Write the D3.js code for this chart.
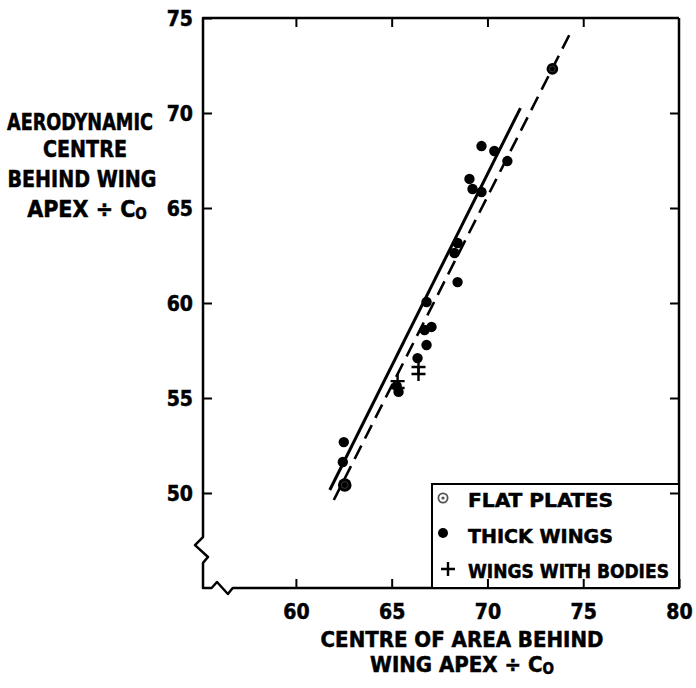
<!DOCTYPE html>
<html lang="en">
<head>
<meta charset="UTF-8" />
<title>Aerodynamic centre</title>
<style>
  body { margin: 0; background: #fff; }
  svg text {
    font-family: "DejaVu Sans Condensed", "DejaVu Sans", sans-serif;
    font-stretch: condensed;
    font-weight: bold;
    fill: #000;
    stroke: #000;
    stroke-width: 0.5px;
  }
</style>
</head>
<body>
<div class="chart"></div>
<script src="https://d3js.org/d3.v7.min.js"></script>
<script>
// values
const xTicks = [60, 65, 70, 75, 80]
const yTicks = [50, 55, 60, 65, 70, 75]

const thickX = [62.5, 62.45, 66.82, 66.35, 65.36, 65.26, 68.44, 68.28, 68.44, 66.82, 67.08, 66.72, 69.69, 70.36, 71.04, 69.06, 69.22, 69.69]
const thickY = [52.68, 51.63, 57.79, 57.1, 55.32, 55.63, 63.16, 62.63, 61.1, 60.05, 58.74, 58.58, 68.26, 68.0, 67.47, 66.53, 66.0, 65.84]

const flatX = [73.39, 62.55]
const flatY = [72.32, 50.42]

const bodiesX = [66.4, 66.4, 65.31, 65.31]
const bodiesY = [56.63, 56.26, 55.89, 55.53]

// two fitted lines (end points)
const solidLineX = [61.77, 71.72]
const solidLineY = [50.16, 70.26]
const dashedLineX = [61.98, 74.43]
const dashedLineY = [49.63, 74.42]

const legendLabels = ['FLAT PLATES', 'THICK WINGS', 'WINGS WITH BODIES']

const W = 696, H = 688

const svg = d3.select('.chart')
  .append('svg')
  .attr('width', W)
  .attr('height', H)

const x = d3.scaleLinear().domain([55.15, 80]).range([203, 679])
const y = d3.scaleLinear().domain([45, 75]).range([588, 18])

const ink = '#000'
const sw = 2.5

// ticks (inward) and labels
const bottomAxis = svg.append('g')
  .attr('transform', `translate(0,${y(45)})`)
  .call(d3.axisBottom(x).tickValues(xTicks).tickSize(-9).tickPadding(16).tickFormat(d3.format('d')))
const topAxis = svg.append('g')
  .attr('transform', `translate(0,${y(75)})`)
  .call(d3.axisTop(x).tickValues(xTicks.slice(0, 4)).tickSize(-9).tickFormat(''))
const leftAxis = svg.append('g')
  .attr('transform', `translate(${x(55.15)},0)`)
  .call(d3.axisLeft(y).tickValues(yTicks).tickSize(-9).tickPadding(10).tickFormat(d3.format('d')))
const rightAxis = svg.append('g')
  .attr('transform', `translate(${x(80)},0)`)
  .call(d3.axisRight(y).tickValues(yTicks.slice(0, 5)).tickSize(-9).tickFormat(''))

svg.selectAll('.domain').remove()
svg.selectAll('.tick line').attr('stroke', ink).attr('stroke-width', 2)
svg.selectAll('.tick text').style('font-size', '21px').attr('fill', ink)
leftAxis.selectAll('.tick text').attr('dy', '0.36em')

// frame with axis breaks
const x0 = x(55.15), y0 = y(45)
const frame = d3.path()
frame.moveTo(x(80), y(75))
frame.lineTo(x0, y(75))
frame.lineTo(x0, y(47.68))
frame.lineTo(x0 - 8, y(47.26))
frame.lineTo(x0 + 5, y(46.63))
frame.lineTo(x0, y(46.32))
frame.lineTo(x0, y0)
frame.lineTo(x(55.6), y0)
frame.lineTo(x(55.88), y0 - 6)
frame.lineTo(x(56.45), y0 + 6)
frame.lineTo(x(56.7), y0)
frame.lineTo(x(80), y0)
frame.lineTo(x(80), y(75))

svg.append('path')
  .attr('d', frame.toString())
  .attr('fill', 'none')
  .attr('stroke', ink)
  .attr('stroke-width', sw)
  .attr('stroke-linejoin', 'round')

// fitted lines
svg.append('line')
  .attr('x1', x(solidLineX[0])).attr('y1', y(solidLineY[0]))
  .attr('x2', x(solidLineX[1])).attr('y2', y(solidLineY[1]))
  .attr('stroke', ink).attr('stroke-width', 3)

svg.append('line')
  .attr('x1', x(dashedLineX[0])).attr('y1', y(dashedLineY[0]))
  .attr('x2', x(dashedLineX[1])).attr('y2', y(dashedLineY[1]))
  .attr('stroke', ink).attr('stroke-width', 2.6)
  .attr('stroke-dasharray', '15,8')

// markers
function flatPlate(g, cx, cy, r) {
  g.append('circle').attr('cx', cx).attr('cy', cy).attr('r', r).attr('fill', ink)
  g.append('circle').attr('cx', cx).attr('cy', cy).attr('r', r * 0.5)
    .attr('fill', 'none').attr('stroke', '#444').attr('stroke-width', 0.8)
}
function plusMark(g, cx, cy, a) {
  g.append('path')
    .attr('d', `M${cx - a},${cy}H${cx + a}M${cx},${cy - a}V${cy + a}`)
    .attr('stroke', ink).attr('stroke-width', 2.4)
}

const pts = svg.append('g')

pts.selectAll('circle.thick')
  .data(thickX.map((d, i) => [d, thickY[i]]))
  .join('circle')
  .attr('class', 'thick')
  .attr('cx', d => x(d[0]))
  .attr('cy', d => y(d[1]))
  .attr('r', 5.2)
  .attr('fill', ink)

flatX.forEach((d, i) => flatPlate(pts, x(d), y(flatY[i]), i === 0 ? 5.8 : 6.8))
bodiesX.forEach((d, i) => plusMark(pts, x(d), y(bodiesY[i]), 7))

// squeeze a text line to a given width, left edge at lx
function fitText(g, t, lx, by, w, size) {
  const el = g.append('text').style('font-size', size).text(t)
  const len = el.node().getComputedTextLength()
  el.attr('transform', `translate(${lx},${by}) scale(${w / len},1)`)
  return el
}

// legend
const legend = svg.append('g')
legend.append('rect')
  .attr('x', 432).attr('y', 484)
  .attr('width', x(80) - 432).attr('height', y0 - 484)
  .attr('fill', '#fff').attr('stroke', ink).attr('stroke-width', 2)

// bottom ticks show again over the legend box
svg.node().appendChild(bottomAxis.node())
svg.node().appendChild(rightAxis.node())

const rowY = [507, 543, 578]
const rowW = [145, 145, 201]
legendLabels.forEach((t, i) => fitText(legend, t, 468, rowY[i], rowW[i], '20px'))

legend.append('circle').attr('cx', 443).attr('cy', 498).attr('r', 4.6)
  .attr('fill', 'none').attr('stroke', '#555').attr('stroke-width', 1.8)
legend.append('circle').attr('cx', 443).attr('cy', 498).attr('r', 1.6).attr('fill', '#555')
legend.append('circle').attr('cx', 443).attr('cy', 533).attr('r', 5).attr('fill', ink)
plusMark(legend, 448, 569, 7)

// y title
const yTitle = ['AERODYNAMIC', 'CENTRE', 'BEHIND WING']
const yTitleY = [130, 157, 187]
const yTitleX = [80, 85, 82]
const yTitleW = [146, 84, 149]
yTitle.forEach((t, i) => fitText(svg, t, yTitleX[i] - yTitleW[i] / 2, yTitleY[i], yTitleW[i], '23px'))

const yl4 = svg.append('text')
  .attr('x', 87).attr('y', 217)
  .attr('text-anchor', 'middle')
  .style('font-size', '23px')
yl4.append('tspan').text('APEX ÷ C')
yl4.append('tspan').attr('dy', 2).style('font-size', '15px').text('O')

// x title
svg.append('text')
  .attr('x', 462).attr('y', 647)
  .attr('text-anchor', 'middle')
  .style('font-size', '22px')
  .text('CENTRE OF AREA BEHIND')
const xl2 = svg.append('text')
  .attr('x', 462).attr('y', 672)
  .attr('text-anchor', 'middle')
  .style('font-size', '22px')
xl2.append('tspan').text('WING APEX ÷ C')
xl2.append('tspan').attr('dy', 2).style('font-size', '15px').text('O')
</script>
</body>
</html>
